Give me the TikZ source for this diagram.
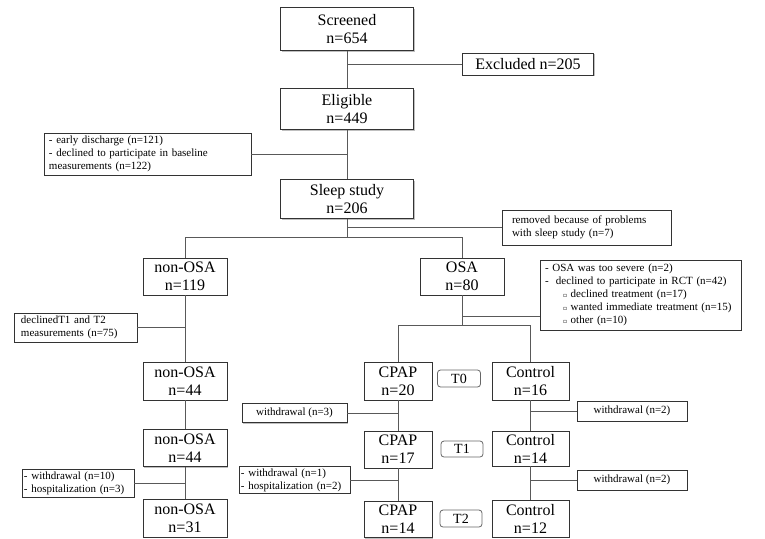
\documentclass[tikz,border=0pt]{standalone}
\usepackage{fontspec}
\setmainfont{Liberation Serif}
\newfontfamily\symfont{DejaVu Sans}
\usepackage{tikz}
\usetikzlibrary{shapes.geometric, shadows}
\newcommand{\subpt}{\hspace*{18pt}{\symfont\fontsize{6}{6}\selectfont ▫}\ }
\tikzstyle{mainbox} = [rectangle, minimum width=133pt, minimum height=41pt, text centered, align=center, inner sep=1pt, draw=black!80, fill=white, font=\fontsize{16}{18}\selectfont, drop shadow={shadow xshift=1pt, shadow yshift=-1pt, fill=black!50}]
\tikzstyle{groupbox} = [mainbox, minimum width=84pt, minimum height=37pt]
\tikzstyle{notebox} = [rectangle, align=left, inner xsep=5pt, inner ysep=2pt, draw=black!80, fill=white, font=\fontsize{11}{13}\selectfont, drop shadow={shadow xshift=1pt, shadow yshift=-1pt, fill=black!50}]
\tikzstyle{timebox} = [rectangle, rounded corners=3pt, minimum width=43pt, minimum height=17pt, inner sep=0pt, line width=0.8pt, draw=black!60, fill=white, font=\fontsize{14}{14}\selectfont]
\tikzstyle{link} = [draw=black!65, line width=0.9pt]

\begin{document}
\begin{tikzpicture}[x=1pt, y=1pt, node distance=70pt]
        \useasboundingbox (-347,29) rectangle (418,-509);
        % Nodes
        \node (screened) [mainbox, minimum height=43pt] {Screened\\n=654};
        \node (excluded) [mainbox, right of=screened, xshift=111pt, yshift=-35pt, minimum width=131pt, minimum height=22pt] {Excluded n=205};
        \node (eligible) [mainbox, below of=screened, yshift=-10pt] {Eligible\\n=449};
        \node (discharge) [notebox, left of=eligible, xshift=-129.5pt, yshift=-45pt, text width=197pt, minimum height=42pt] {- early discharge (n=121)\\- declined to participate in baseline\\measurements (n=122)};
        \node (sleep) [mainbox, below of=eligible, yshift=-20pt, minimum height=39pt] {Sleep study\\n=206};
        \node (removed) [notebox, right of=sleep, xshift=169.5pt, yshift=-28.5pt, inner xsep=10pt, text width=149pt, minimum height=35pt] {removed because of problems\\with sleep study (n=7)};
        \node (nonosa1) [groupbox, below of=sleep, xshift=-162pt, yshift=-7.5pt] {non-OSA\\n=119};
        \node (osa) [groupbox, below of=sleep, xshift=115pt, yshift=-7.5pt] {OSA\\n=80};
        \node (severe) [notebox, right of=osa, xshift=108.5pt, yshift=-18.5pt, text width=191pt, minimum height=70pt] {- OSA was too severe (n=2)\\-\ \ declined to participate in RCT (n=42)\\\subpt declined treatment (n=17)\\\subpt wanted immediate treatment (n=15)\\\subpt other (n=10)};
        \node (declined) [notebox, left of=nonosa1, xshift=-39.5pt, yshift=-51pt, inner xsep=7pt, text width=109pt, minimum height=29pt] {declinedT1 and T2\\measurements (n=75)};
        \node (nonosa2) [groupbox, below of=nonosa1, yshift=-34.5pt, minimum height=38pt] {non-OSA\\n=44};
        \node (cpap0) [groupbox, below of=osa, xshift=-64pt, yshift=-34.5pt, minimum width=68pt, minimum height=38pt] {CPAP\\n=20};
        \node (ctrl0) [groupbox, below of=osa, xshift=68.5pt, yshift=-34.5pt, minimum width=77pt, minimum height=38pt] {Control\\n=16};
        \node (t0) [timebox, right of=cpap0, xshift=-9pt, yshift=2.5pt] {T0};
        \node (wd3) [notebox, left of=cpap0, xshift=-33.5pt, yshift=-32pt, align=center, minimum width=105pt, minimum height=19pt] {withdrawal (n=3)};
        \node (wd2a) [notebox, right of=ctrl0, xshift=31.5pt, yshift=-30pt, align=center, minimum width=110pt, minimum height=20pt] {withdrawal (n=2)};
        \node (nonosa3) [groupbox, below of=nonosa2, yshift=3pt] {non-OSA\\n=44};
        \node (cpap1) [groupbox, below of=cpap0, yshift=1.5pt, minimum width=68pt] {CPAP\\n=17};
        \node (ctrl1) [groupbox, below of=ctrl0, yshift=2.5pt, minimum width=77pt, minimum height=35pt] {Control\\n=14};
        \node (t1) [timebox, right of=cpap1, xshift=-6pt, yshift=0.5pt, minimum width=42pt, minimum height=16pt] {T1};
        \node (wd10) [notebox, left of=nonosa3, xshift=-37pt, yshift=-35pt, inner xsep=2pt, text width=108pt, minimum height=28pt] {- withdrawal (n=10)\\- hospitalization (n=3)};
        \node (wd1) [notebox, left of=cpap1, xshift=-33.5pt, yshift=-30.5pt, inner xsep=2pt, text width=107pt, minimum height=26pt] {- withdrawal (n=1)\\- hospitalization (n=2)};
        \node (wd2b) [notebox, right of=ctrl1, xshift=31.5pt, yshift=-31.5pt, align=center, minimum width=110pt, minimum height=20pt] {withdrawal (n=2)};
        \node (nonosa4) [groupbox, below of=nonosa3, minimum height=38pt] {non-OSA\\n=31};
        \node (cpap2) [groupbox, below of=cpap1, minimum width=68pt, minimum height=36pt] {CPAP\\n=14};
        \node (ctrl2) [groupbox, below of=ctrl1, minimum width=77pt] {Control\\n=12};
        \node (t2) [timebox, right of=cpap2, xshift=-7pt, yshift=1pt, minimum width=42pt] {T2};
        \coordinate (split) at ([yshift=-18.5pt]sleep.south);
        \coordinate (armsplit) at ([yshift=-30pt]osa.south);

        % Connectors
        \draw [link] (screened) -- (eligible);
        \draw [link] (excluded.west) -- (excluded.west -| screened);
        \draw [link] (eligible) -- (sleep);
        \draw [link] (discharge.east) -- (discharge.east -| eligible);
        \draw [link] (sleep) -- (split);
        \draw [link] (removed.west) -- (removed.west -| sleep);
        \draw [link] (nonosa1) |- (split) -| (osa);
        \draw [link] (declined.east) -- (declined.east -| nonosa1);
        \draw [link] (nonosa1) -- (nonosa2);
        \draw [link] (nonosa2) -- (nonosa3);
        \draw [link] (nonosa3) -- (nonosa4);
        \draw [link] (wd10.east) -- (wd10.east -| nonosa3);
        \draw [link] (osa) -- (armsplit);
        \draw [link] ([yshift=14pt]severe.south west) -- ([yshift=14pt]severe.south west -| osa);
        \draw [link] (cpap0) |- (armsplit) -| (ctrl0);
        \draw [link] (cpap0) -- (cpap1);
        \draw [link] (cpap1) -- (cpap2);
        \draw [link] (ctrl0) -- (ctrl1);
        \draw [link] (ctrl1) -- (ctrl2);
        \draw [link] (wd3.east) -- (wd3.east -| cpap0);
        \draw [link] (wd2a.west) -- (wd2a.west -| ctrl0);
        \draw [link] (wd1.east) -- (wd1.east -| cpap1);
        \draw [link] (wd2b.west) -- (wd2b.west -| ctrl1);
    \end{tikzpicture}
\end{document}
